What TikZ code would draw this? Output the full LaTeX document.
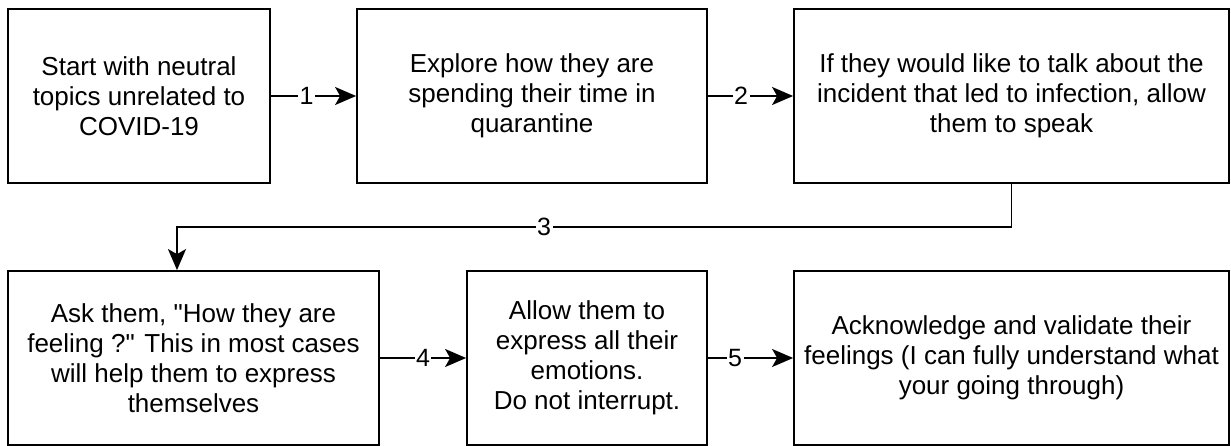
\documentclass[tikz,border=0pt]{standalone}
\usepackage{fontspec}
\setmainfont{Liberation Sans}
\usepackage{tikz}
\usetikzlibrary{arrows.meta, positioning}
\tikzset{%
	stepbox/.style={
		rectangle,
		draw,
		line width=1.8pt,
		align=center,
		inner sep=0pt,
		minimum height=174pt,
		font=\fontsize{26}{30}\selectfont
	},
	flow/.style={
		line width=1.8pt,
		-{Stealth[length=21pt, width=18pt, inset=5pt]}
	},
	steplabel/.style={
		fill=white,
		inner sep=1.5pt,
		font=\fontsize{25}{30}\selectfont
	},
}
\begin{document}
\begin{tikzpicture}[x=1pt, y=-1pt]
			\useasboundingbox (0,0) rectangle (1231,446);
			\node[stepbox, minimum width=262pt] (s1) at (139,96) {Start with neutral\\topics unrelated to\\COVID-19};
			\node[stepbox, minimum width=350pt] (s2) at (532,96) {Explore how they are\\spending their time in\\quarantine};
			\node[stepbox, minimum width=435pt] (s3) at (1011.5,96) {If they would like to talk about the\\incident that led to infection, allow\\them to speak};
			\node[stepbox, minimum width=371pt] (s4) at (193.5,358) {Ask them, \textquotedbl How they are\\feeling ?\textquotedbl{} This in most cases\\will help them to express\\themselves};
			\node[stepbox, minimum width=240pt] (s5) at (587,358) {Allow them to\\express all their\\emotions.\\Do not interrupt.};
			\node[stepbox, minimum width=435pt] (s6) at (1011.5,358) {Acknowledge and validate their\\feelings (I can fully understand what\\your going through)};
			
			\coordinate (bend) at (177,227);
			
			\draw[flow] (s1) -- node[steplabel, pos=0.42] {1} (s2);
			\draw[flow] (s2) -- node[steplabel, pos=0.39] {2} (s3);
			\draw[flow] (s3.south) |- (bend) node[steplabel, pos=0.78] {3} -- (bend |- s4.north);
			\draw[flow] (s4) -- node[steplabel, pos=0.5] {4} (s5);
			\draw[flow] (s5) -- node[steplabel, pos=0.32] {5} (s6);
			
		\end{tikzpicture}
\end{document}
